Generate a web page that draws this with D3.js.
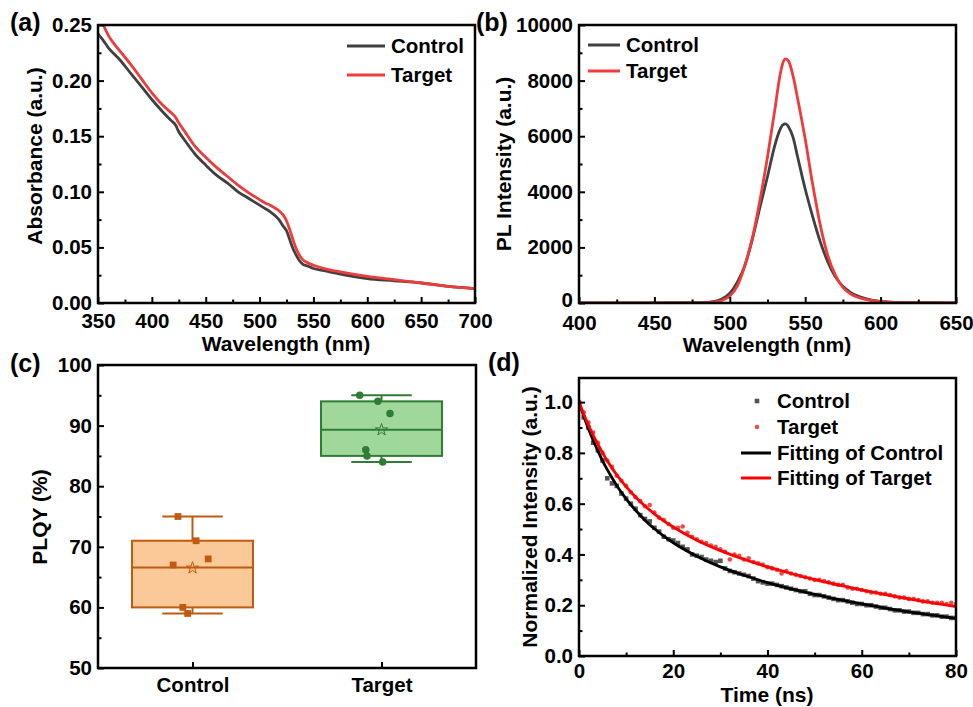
<!DOCTYPE html>
<html>
<head>
<meta charset="utf-8">
<script src="https://cdn.jsdelivr.net/npm/d3@7"></script>
<style>
  body { margin: 0; background: #fff; }
  svg text { font-family: "Liberation Sans", Arial, sans-serif; font-weight: bold; fill: #000; }
  .tick text { font-size: 20.5px; }
</style>
</head>
<body>
<svg id="fig" width="973" height="707"></svg>
<script>
// ---------- (a) absorbance ----------
const absWavelength = [350, 355, 360, 365, 370, 380, 390, 400, 410, 418, 422, 425, 430, 440, 450, 460, 470, 480, 490, 500,
  505, 510, 515, 518, 522, 525, 528, 531, 534, 537, 540, 545, 550, 560, 575, 600, 625, 650, 675, 700];
const absControl = [0.242, 0.236, 0.229, 0.224, 0.219, 0.207, 0.195, 0.183, 0.172, 0.164, 0.160, 0.154, 0.147, 0.134, 0.124,
  0.115, 0.108, 0.100, 0.094, 0.088, 0.085, 0.082, 0.078, 0.075, 0.069, 0.065, 0.057, 0.049, 0.043, 0.038, 0.035, 0.033,
  0.031, 0.029, 0.026, 0.022, 0.020, 0.018, 0.015, 0.013];
const absTarget = [0.262, 0.250, 0.240, 0.233, 0.227, 0.215, 0.202, 0.189, 0.178, 0.171, 0.167, 0.162, 0.155, 0.141, 0.131,
  0.122, 0.114, 0.106, 0.099, 0.093, 0.090, 0.088, 0.085, 0.083, 0.079, 0.074, 0.066, 0.057, 0.049, 0.043, 0.039, 0.036,
  0.034, 0.031, 0.028, 0.024, 0.021, 0.018, 0.015, 0.013];

// ---------- (b) PL ----------
const plWavelength = [400, 450, 480, 490, 495, 500, 505, 510, 515, 520, 525, 530, 533, 535, 537, 539, 542, 545, 550, 555,
  560, 565, 570, 575, 580, 590, 600, 620, 650];
const plControl = [0, 0, 10, 60, 150, 350, 750, 1350, 2300, 3450, 4550, 5700, 6200, 6400, 6440, 6330, 5950, 5250, 4100, 3100,
  2200, 1480, 940, 600, 380, 160, 60, 10, 0];
const plTarget = [0, 0, 5, 40, 100, 250, 620, 1350, 2350, 3700, 5250, 7000, 8100, 8600, 8780, 8700, 8150, 7350, 5900, 4250,
  2800, 1700, 1000, 560, 330, 130, 50, 10, 0];

// ---------- (c) PLQY ----------
const plqyGroups = ["Control", "Target"];
const plqyPoints = [[75, 71, 68, 67, 60, 59], [95, 94, 92, 86, 85, 84]];
const plqyJitter = [[-0.12, 0.03, 0.13, -0.16, -0.08, -0.04], [-0.18, -0.03, 0.07, -0.13, -0.12, 0.01]];
const boxQ1 = [60, 85];
const boxMedian = [66.6, 89.3];
const boxQ3 = [71, 94];
const whiskerLow = [59, 84];
const whiskerHigh = [75, 95];
const boxMean = [66.5, 89.3];

// ---------- (d) TRPL ----------
const trTime = [0, 1, 2, 3, 4, 5, 6, 7, 8, 9, 10, 11, 12, 13, 14, 15, 16, 17, 18, 19, 20, 21, 22, 23, 24, 25, 26, 27, 28, 29,
  30, 31, 32, 33, 34, 35, 36, 37, 38, 39, 40, 41, 42, 43, 44, 45, 46, 47, 48, 49, 50, 51, 52, 53, 54, 55, 56, 57, 58, 59,
  60, 61, 62, 63, 64, 65, 66, 67, 68, 69, 70, 71, 72, 73, 74, 75, 76, 77, 78, 79, 80];
const trControl = [1.00, 0.94, 0.90, 0.84, 0.81, 0.77, 0.70, 0.68, 0.67, 0.64, 0.62, 0.60, 0.58, 0.555, 0.54, 0.53, 0.505,
  0.49, 0.47, 0.46, 0.455, 0.445, 0.43, 0.42, 0.40, 0.395, 0.39, 0.38, 0.375, 0.37, 0.375, 0.345, 0.335, 0.33, 0.325, 0.32,
  0.315, 0.305, 0.295, 0.29, 0.285, 0.285, 0.28, 0.275, 0.27, 0.265, 0.26, 0.255, 0.255, 0.245, 0.24, 0.24, 0.235, 0.23,
  0.225, 0.22, 0.22, 0.215, 0.21, 0.205, 0.205, 0.20, 0.20, 0.195, 0.19, 0.19, 0.185, 0.18, 0.18, 0.175, 0.175, 0.17, 0.17,
  0.165, 0.165, 0.16, 0.16, 0.155, 0.155, 0.15, 0.15];
const trTarget = [1.00, 0.96, 0.92, 0.88, 0.84, 0.80, 0.77, 0.745, 0.71, 0.69, 0.67, 0.645, 0.625, 0.61, 0.59, 0.595, 0.565,
  0.545, 0.535, 0.52, 0.505, 0.505, 0.51, 0.485, 0.47, 0.46, 0.45, 0.445, 0.435, 0.43, 0.42, 0.41, 0.38, 0.40, 0.395, 0.38,
  0.385, 0.37, 0.365, 0.36, 0.35, 0.345, 0.34, 0.325, 0.335, 0.325, 0.32, 0.315, 0.31, 0.305, 0.30, 0.30, 0.295, 0.29,
  0.285, 0.28, 0.28, 0.27, 0.265, 0.265, 0.26, 0.255, 0.25, 0.25, 0.245, 0.245, 0.24, 0.235, 0.23, 0.23, 0.225, 0.225, 0.22,
  0.215, 0.215, 0.21, 0.21, 0.21, 0.205, 0.21, 0.205];
const fitTime = [0, 1, 2, 3, 4, 5, 6, 7, 8, 10, 12, 14, 16, 18, 20, 25, 30, 35, 40, 45, 50, 55, 60, 65, 70, 75, 80];
const fitControl = [1.000, 0.945, 0.895, 0.850, 0.808, 0.769, 0.734, 0.702, 0.672, 0.619, 0.574, 0.535, 0.501, 0.472, 0.446,
  0.393, 0.351, 0.318, 0.289, 0.264, 0.243, 0.223, 0.205, 0.189, 0.174, 0.161, 0.148];
const fitTarget = [1.000, 0.953, 0.910, 0.870, 0.834, 0.800, 0.769, 0.740, 0.714, 0.667, 0.626, 0.591, 0.560, 0.532, 0.508,
  0.456, 0.415, 0.381, 0.351, 0.325, 0.301, 0.280, 0.260, 0.242, 0.225, 0.209, 0.195];

const svg = d3.select("#fig");
const gray = "#404040", red = "#ef3b3b";

// draws inward ticks, labels and the box frame
function axes(g, x, y, o) {
  const [x0, x1] = x.range();
  const [y1, y0] = y.range();
  const xPad = o.xPad || 9;
  if (o.xMinor) {
    g.append("g").attr("transform", `translate(0,${y1})`)
      .call(d3.axisBottom(x).tickValues(o.xMinor).tickSize(-3.5))
      .selectAll("text").remove();
  }
  g.append("g").attr("transform", `translate(0,${y1})`)
    .call(d3.axisBottom(x).tickValues(o.xTicks).tickSize(-6).tickPadding(xPad).tickFormat(o.xFmt || null));
  if (o.yMinor) {
    g.append("g").attr("transform", `translate(${x0},0)`)
      .call(d3.axisLeft(y).tickValues(o.yMinor).tickSize(-3.5))
      .selectAll("text").remove();
  }
  const yAxis = g.append("g").attr("transform", `translate(${x0},0)`)
    .call(d3.axisLeft(y).tickValues(o.yTicks).tickSize(-6).tickPadding(6).tickFormat(o.yFmt || null));
  // keep the corner label clear of the first x label
  if (o.liftZero) yAxis.selectAll(".tick text").filter(d => d === o.yTicks[0]).attr("y", -o.liftZero);
  g.selectAll(".domain").remove();
  g.selectAll(".tick line").attr("stroke", "#000").attr("stroke-width", 2);
  g.append("rect").attr("x", x0).attr("y", y0).attr("width", x1 - x0).attr("height", y1 - y0)
    .attr("fill", "none").attr("stroke", "#000").attr("stroke-width", 2.5);
}

function clip(id, x, y) {
  const [x0, x1] = x.range(), [y1, y0] = y.range();
  svg.append("clipPath").attr("id", id).append("rect")
    .attr("x", x0).attr("y", y0).attr("width", x1 - x0).attr("height", y1 - y0);
  return `url(#${id})`;
}

function label(text, x, y, size, rotate) {
  const t = svg.append("text").text(text).attr("font-size", size).attr("text-anchor", rotate ? "middle" : "start");
  if (rotate) t.attr("transform", `translate(${x},${y}) rotate(-90)`);
  else t.attr("x", x).attr("y", y);
  return t;
}

function lineLegend(items, x, y, dy, len) {
  items.forEach((it, i) => {
    svg.append("line").attr("x1", x).attr("x2", x + len).attr("y1", y + i * dy).attr("y2", y + i * dy)
      .attr("stroke", it.color).attr("stroke-width", 3);
    svg.append("text").text(it.name).attr("x", x + len + 6).attr("y", y + i * dy + 7).attr("font-size", 20.5);
  });
}

// ---------- panel (a) ----------
{
  const x = d3.scaleLinear().domain([350, 700]).range([98, 475]);
  const y = d3.scaleLinear().domain([0, 0.25]).range([303, 25]);
  const g = svg.append("g");
  const cp = clip("clipA", x, y);
  const line = d3.line().x((d, i) => x(absWavelength[i])).y(d => y(d)).curve(d3.curveMonotoneX);
  g.append("path").datum(absControl).attr("d", line).attr("fill", "none").attr("stroke", gray)
    .attr("stroke-width", 2.8).attr("clip-path", cp);
  g.append("path").datum(absTarget).attr("d", line).attr("fill", "none").attr("stroke", red)
    .attr("stroke-width", 2.8).attr("clip-path", cp);
  axes(g, x, y, {
    xTicks: d3.range(350, 701, 50), xMinor: d3.range(375, 700, 50),
    yTicks: [0, 0.05, 0.1, 0.15, 0.2, 0.25], yMinor: [0.025, 0.075, 0.125, 0.175, 0.225],
    yFmt: d3.format(".2f"), xPad: 10
  });
  lineLegend([{ name: "Control", color: gray }, { name: "Target", color: red }], 347, 46, 29, 38);
  label("(a)", 10, 31, 25);
  label("Absorbance (a.u.)", 42, 156, 21, true);
  label("Wavelength (nm)", 286, 351, 21).attr("text-anchor", "middle");
}

// ---------- panel (b) ----------
{
  const x = d3.scaleLinear().domain([400, 650]).range([579, 956]);
  const y = d3.scaleLinear().domain([0, 10000]).range([303, 25]);
  const g = svg.append("g");
  const cp = clip("clipB", x, y);
  const line = d3.line().x((d, i) => x(plWavelength[i])).y(d => y(d)).curve(d3.curveMonotoneX);
  g.append("path").datum(plControl).attr("d", line).attr("fill", "none").attr("stroke", gray)
    .attr("stroke-width", 2.8).attr("clip-path", cp);
  g.append("path").datum(plTarget).attr("d", line).attr("fill", "none").attr("stroke", red)
    .attr("stroke-width", 2.8).attr("clip-path", cp);
  axes(g, x, y, {
    xTicks: d3.range(400, 651, 50), xMinor: d3.range(425, 650, 50),
    yTicks: d3.range(0, 10001, 2000), yMinor: d3.range(1000, 10000, 2000),
    yFmt: d3.format("d"), xPad: 12, liftZero: 3
  });
  lineLegend([{ name: "Control", color: gray }, { name: "Target", color: red }], 588, 45, 26, 32);
  label("(b)", 476, 31, 25);
  label("PL Intensity (a.u.)", 511, 164, 21, true);
  label("Wavelength (nm)", 767, 352, 21).attr("text-anchor", "middle");
}

// ---------- panel (c) ----------
{
  const x = d3.scalePoint().domain(plqyGroups).range([98, 476]).padding(0.5);
  const y = d3.scaleLinear().domain([50, 100]).range([668, 365]);
  const g = svg.append("g");
  const boxW = x.step() * 0.64;
  const stroke = ["#c05a10", "#2e7d32"], fill = ["#fbc898", "#a0d89c"];
  plqyGroups.forEach((grp, i) => {
    const cx = x(grp);
    const b = g.append("g");
    b.append("line").attr("x1", cx).attr("x2", cx).attr("y1", y(boxQ3[i])).attr("y2", y(whiskerHigh[i]))
      .attr("stroke", stroke[i]).attr("stroke-width", 2);
    b.append("line").attr("x1", cx).attr("x2", cx).attr("y1", y(boxQ1[i])).attr("y2", y(whiskerLow[i]))
      .attr("stroke", stroke[i]).attr("stroke-width", 2);
    [whiskerHigh[i], whiskerLow[i]].forEach(v => {
      b.append("line").attr("x1", cx - boxW / 4).attr("x2", cx + boxW / 4).attr("y1", y(v)).attr("y2", y(v))
        .attr("stroke", stroke[i]).attr("stroke-width", 2);
    });
    b.append("rect").attr("x", cx - boxW / 2).attr("y", y(boxQ3[i])).attr("width", boxW)
      .attr("height", y(boxQ1[i]) - y(boxQ3[i])).attr("fill", fill[i]).attr("stroke", stroke[i]).attr("stroke-width", 2);
    b.append("line").attr("x1", cx - boxW / 2).attr("x2", cx + boxW / 2).attr("y1", y(boxMedian[i])).attr("y2", y(boxMedian[i]))
      .attr("stroke", stroke[i]).attr("stroke-width", 2);
    b.append("path").attr("d", d3.symbol(d3.symbolStar, 45)())
      .attr("transform", `translate(${cx},${y(boxMean[i])})`)
      .attr("fill", "none").attr("stroke", stroke[i]).attr("stroke-width", 1);
    const sym = i === 0 ? d3.symbolSquare : d3.symbolCircle;
    const size = i === 0 ? 46 : 44;
    b.selectAll(".pt").data(plqyPoints[i]).join("path")
      .attr("d", d3.symbol(sym, size)())
      .attr("transform", (d, j) => `translate(${cx + plqyJitter[i][j] * boxW},${y(d)})`)
      .attr("fill", stroke[i]);
  });
  axes(g, x, y, {
    xTicks: plqyGroups,
    yTicks: d3.range(50, 101, 10), yMinor: d3.range(55, 100, 10)
  });
  label("(c)", 10, 372, 25);
  label("PLQY (%)", 47, 517, 21, true);
}

// ---------- panel (d) ----------
{
  const x = d3.scaleLinear().domain([0, 80]).range([579, 956]);
  const y = d3.scaleLinear().domain([0, 1.095]).range([656, 378]);
  const g = svg.append("g");
  const cp = clip("clipD", x, y);
  const dark = "#555555", dot = "#f04a4a";
  g.append("g").attr("clip-path", cp).selectAll("rect").data(trControl).join("rect")
    .attr("x", (d, i) => x(trTime[i]) - 2.3).attr("y", d => y(d) - 2.3)
    .attr("width", 4.6).attr("height", 4.6).attr("fill", dark);
  g.append("g").attr("clip-path", cp).selectAll("circle").data(trTarget).join("circle")
    .attr("cx", (d, i) => x(trTime[i])).attr("cy", d => y(d)).attr("r", 2.3).attr("fill", dot);
  const line = d3.line().x((d, i) => x(fitTime[i])).y(d => y(d)).curve(d3.curveMonotoneX);
  g.append("path").datum(fitControl).attr("d", line).attr("fill", "none").attr("stroke", "#000")
    .attr("stroke-width", 2.8).attr("clip-path", cp);
  g.append("path").datum(fitTarget).attr("d", line).attr("fill", "none").attr("stroke", "#ff0000")
    .attr("stroke-width", 2.8).attr("clip-path", cp);
  axes(g, x, y, {
    xTicks: d3.range(0, 81, 20), xMinor: d3.range(10, 80, 20),
    yTicks: [0, 0.2, 0.4, 0.6, 0.8, 1.0], yMinor: [0.1, 0.3, 0.5, 0.7, 0.9],
    yFmt: d3.format(".1f"), xPad: 7
  });
  // legend
  svg.append("rect").attr("x", 757 - 2.3).attr("y", 401 - 2.3).attr("width", 4.6).attr("height", 4.6).attr("fill", dark);
  svg.append("text").text("Control").attr("x", 777).attr("y", 408).attr("font-size", 20.5);
  svg.append("circle").attr("cx", 757).attr("cy", 427).attr("r", 2.3).attr("fill", dot);
  svg.append("text").text("Target").attr("x", 777).attr("y", 434).attr("font-size", 20.5);
  [["Fitting of Control", "#000", 453], ["Fitting of Target", "#ff0000", 478]].forEach(([name, c, yy]) => {
    svg.append("line").attr("x1", 741).attr("x2", 771).attr("y1", yy).attr("y2", yy)
      .attr("stroke", c).attr("stroke-width", 3);
    svg.append("text").text(name).attr("x", 777).attr("y", yy + 7).attr("font-size", 20.5);
  });
  label("(d)", 488, 371, 25);
  label("Normalized Intensity (a.u.)", 537, 517, 21, true);
  label("Time (ns)", 767, 702, 21).attr("text-anchor", "middle");
}
</script>
</body>
</html>
